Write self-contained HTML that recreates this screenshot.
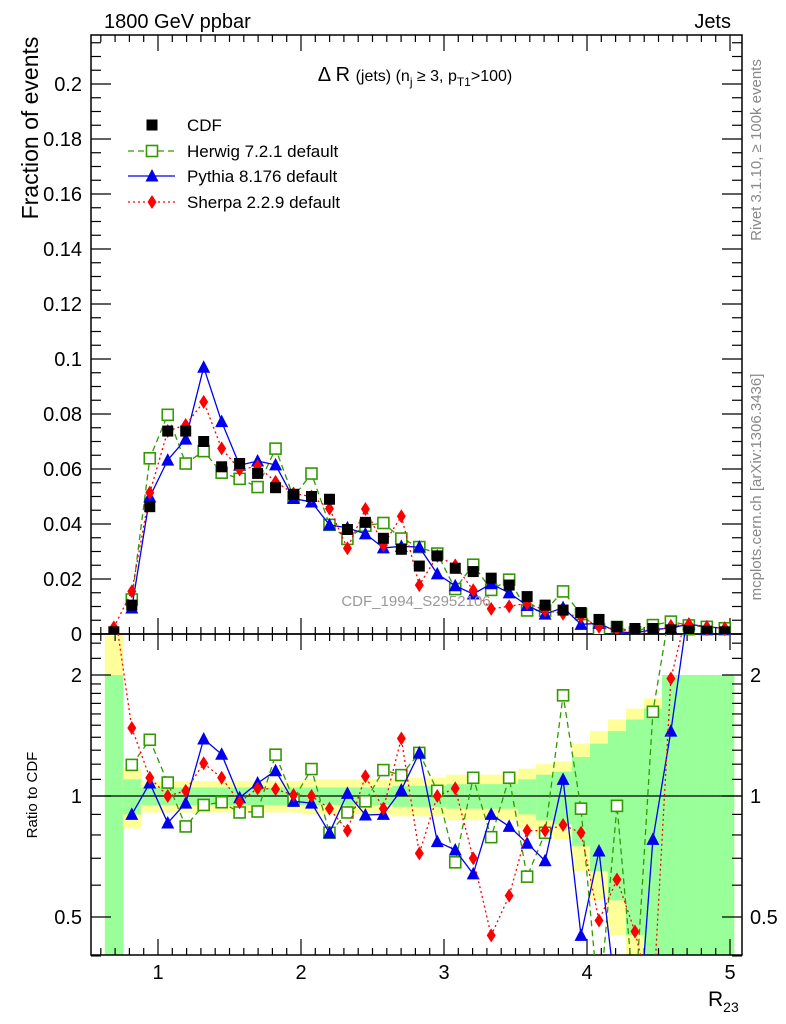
<!DOCTYPE html>
<html><head><meta charset="utf-8"><style>
html,body{margin:0;padding:0;background:#fff;overflow:hidden;width:786px;height:1024px;}
svg{display:block;font-family:"Liberation Sans",sans-serif;}
</style></head><body>
<svg id="chart" width="786" height="1024" viewBox="0 0 786 1024" xmlns="http://www.w3.org/2000/svg">
<defs>
<clipPath id="clipMain"><rect x="91" y="35" width="651" height="599"/></clipPath>
<clipPath id="clipRatio"><rect x="91" y="634" width="651" height="321"/></clipPath>
</defs>
<g id="bands" clip-path="url(#clipRatio)"></g>
<g id="axes"></g>
<g id="series"></g>
<text x="104" y="28" font-size="20">1800 GeV ppbar</text>
<text x="731" y="28" font-size="20" text-anchor="end">Jets</text>
<text x="415" y="81" font-size="20" text-anchor="middle">Δ R <tspan font-size="16">(jets) (n</tspan><tspan font-size="12" dy="5">j</tspan><tspan font-size="16" dy="-5"> ≥ 3, p</tspan><tspan font-size="12" dy="5">T1</tspan><tspan font-size="16" dy="-5">&gt;100)</tspan></text>
<text transform="translate(38,128) rotate(-90)" font-size="23" text-anchor="middle">Fraction of events</text>
<text transform="translate(37,795) rotate(-90)" font-size="15" text-anchor="middle">Ratio to CDF</text>
<text x="708" y="1006" font-size="21">R<tspan font-size="14" dy="6">23</tspan></text>
<text transform="translate(761,150) rotate(-90)" font-size="15" fill="#888" text-anchor="middle">Rivet 3.1.10, ≥ 100k events</text>
<text transform="translate(761,487) rotate(-90)" font-size="15" fill="#888" text-anchor="middle">mcplots.cern.ch [arXiv:1306.3436]</text>
<text x="416" y="606" font-size="15" fill="#999" text-anchor="middle">CDF_1994_S2952106</text>
<g id="legend"></g>
</svg>
<script>
const binStart = 0.6283;
const binWidth = 0.12566;
const cdfValues = [0.0008,0.0105,0.0463,0.0738,0.0738,0.070,0.0608,0.0620,0.0584,0.0532,0.0508,0.0500,0.0490,0.0380,0.0406,0.0348,0.0308,0.0247,0.0284,0.0239,0.0227,0.0203,0.0178,0.0136,0.0105,0.0087,0.0078,0.0053,0.0027,0.0020,0.0020,0.0015,0.0012,0.0010,0.0008];
const herwigRatio = [null,1.195,1.38,1.08,0.84,0.95,0.965,0.91,0.915,1.267,0.98,1.167,0.81,0.91,0.97,1.16,1.127,1.28,1.03,0.684,1.11,0.79,1.11,0.63,0.81,1.78,0.93,0.3,0.945,0.3,1.62,3,2.6,2.6,2.6];
const pythiaRatio = [null,0.90,1.077,0.857,0.96,1.386,1.27,0.99,1.077,1.156,0.97,0.96,0.81,1.015,0.897,0.90,1.035,1.28,0.77,0.734,0.64,0.90,0.84,0.763,0.69,1.1,0.45,0.73,0.3,0.2,0.78,1.45,3,2.6,2.6];
const sherpaRatio = [3,1.476,1.11,1.0,1.03,1.206,1.11,0.965,1.045,1.04,1.006,1.0,0.93,0.82,1.12,0.93,1.39,0.72,1.0,1.045,0.70,0.45,0.565,0.82,0.82,0.847,0.81,0.49,0.62,0.46,0.3,1.96,3,2.6,2.6];
const statErr = [1.0,0.1,0.05,0.05,0.05,0.05,0.05,0.05,0.05,0.05,0.05,0.05,0.05,0.05,0.05,0.05,0.06,0.06,0.06,0.07,0.07,0.07,0.07,0.1,0.13,0.15,0.25,0.35,0.45,0.55,0.65,1.0,1.0,1.0,1.0];
const totalErr = [1.5,0.17,0.09,0.09,0.09,0.09,0.09,0.09,0.09,0.09,0.09,0.1,0.1,0.1,0.1,0.1,0.11,0.11,0.11,0.13,0.13,0.13,0.13,0.17,0.2,0.22,0.35,0.45,0.55,0.65,0.75,0.9,1.0,1.0,1.0];
const yTicks = [0,0.02,0.04,0.06,0.08,0.1,0.12,0.14,0.16,0.18,0.2];
const yTickLabels = ["0","0.02","0.04","0.06","0.08","0.1","0.12","0.14","0.16","0.18","0.2"];
const xTicks = [1,2,3,4,5];
const ratioTicks = [0.5,1,2];

const NS="http://www.w3.org/2000/svg";
const L=91,R=742,T=35,MB=634,RB=955;
const sx=v=>158+(v-1)*143;
const sy=v=>634-v*2750;
const sr=r=>796-Math.log2(r)*121;
function mk(tag,attrs,parent){const e=document.createElementNS(NS,tag);for(const k in attrs)e.setAttribute(k,attrs[k]);parent.appendChild(e);return e;}
const axes=document.getElementById('axes'),series=document.getElementById('series'),bands=document.getElementById('bands'),legend=document.getElementById('legend');
const center=i=>binStart+binWidth*(i+0.5);

cdfValues.forEach((c,i)=>{
  const x0=sx(binStart+binWidth*i),x1=sx(binStart+binWidth*(i+1));
  [[totalErr[i],'#ffff99','band-total'],[statErr[i],'#99ff99','band-stat']].forEach(([e,col,nm])=>{
    const hi=sr(1+e),lo=sr(Math.max(1-e,0.05));
    const r=mk('rect',{x:x0,y:hi,width:x1-x0+0.5,height:lo-hi,fill:col},bands);
    
    
  });
});
let f=mk('rect',{x:L,y:T,width:R-L,height:MB-T,fill:'none',stroke:'#000','stroke-width':1.5},axes);

f=mk('rect',{x:L,y:MB,width:R-L,height:RB-MB,fill:'none',stroke:'#000','stroke-width':1.5},axes);

let u=mk('line',{x1:L,x2:R,y1:sr(1),y2:sr(1),stroke:'#000','stroke-width':1.2},axes);

for(let v=0.6;v<=5.05;v+=0.1){
  const vv=Math.round(v*10)/10,x=sx(vv);if(x<L||x>R)continue;
  const major=Math.abs(vv-Math.round(vv))<1e-6,len=major?16:7;
  [[T,1],[MB,-1],[MB,1],[RB,-1]].forEach(([y,d])=>mk('line',{x1:x,x2:x,y1:y,y2:y+d*len,stroke:'#000','stroke-width':1.2},axes));
}
xTicks.forEach(v=>{const t=mk('text',{x:sx(v),y:979,'font-size':20,'text-anchor':'middle'},axes);t.textContent=v;
});
for(let v=0;v<=0.2175;v+=0.005){const y=sy(v),maj=Math.abs(v/0.02-Math.round(v/0.02))<1e-6,len=maj?20:10;
 mk('line',{x1:L,x2:L+len,y1:y,y2:y,stroke:'#000','stroke-width':1.2},axes);
 mk('line',{x1:R,x2:R-len,y1:y,y2:y,stroke:'#000','stroke-width':1.2},axes);}
yTicks.forEach((v,i)=>{const t=mk('text',{x:82,y:sy(v)+7,'font-size':20,'text-anchor':'end'},axes);t.textContent=yTickLabels[i];
});
[0.4,0.5,0.6,0.7,0.8,0.9,1,1.1,1.2,1.3,1.4,1.5,1.6,1.7,1.8,1.9,2,2.2,2.4].forEach(v=>{
 const y=sr(v),maj=ratioTicks.includes(v),len=maj?20:10;
 mk('line',{x1:L,x2:L+len,y1:y,y2:y,stroke:'#000','stroke-width':1.2},axes);
 mk('line',{x1:R,x2:R-len,y1:y,y2:y,stroke:'#000','stroke-width':1.2},axes);});
ratioTicks.forEach(v=>{[[82,'end'],[750,'start']].forEach(([x,a])=>{const t=mk('text',{x:x,y:sr(v)+7,'font-size':20,'text-anchor':a},axes);t.textContent=v;
});});

function marker(kind,x,y,col,g){
  let e;
  if(kind==='sq')e=mk('rect',{x:x-5.5,y:y-5.5,width:11,height:11,fill:col},g);
  else if(kind==='osq')e=mk('rect',{x:x-5.5,y:y-5.5,width:11,height:11,fill:'#fff',stroke:col,'stroke-width':1.6},g);
  else if(kind==='tri')e=mk('polygon',{points:`${x},${y-7} ${x-6.5},${y+5.5} ${x+6.5},${y+5.5}`,fill:col},g);
  else e=mk('polygon',{points:`${x},${y-7} ${x-4.5},${y} ${x},${y+7} ${x+4.5},${y}`,fill:col},g);
  return e;
}
const mcs=[
 ['herwig',herwigRatio,'#339900','osq','6,4'],
 ['pythia',pythiaRatio,'#0000ee','tri',''],
 ['sherpa',sherpaRatio,'#ff0000','dia','2,3']];
mcs.forEach(([nm,ratio,col,mkind,dash])=>{
  [['main',i=>sy(cdfValues[i]*ratio[i]),'clipMain'],['ratio',i=>sr(ratio[i]),'clipRatio']].forEach(([pan,fy,clip])=>{
    const g=mk('g',{'clip-path':`url(#${clip})`},series);
    
    
    const idx=cdfValues.map((c,i)=>i).filter(i=>ratio[i]!=null);
    const pts=idx.map(i=>sx(center(i)).toFixed(1)+','+fy(i).toFixed(1)).join(' ');
    const pl=mk('polyline',{points:pts,fill:'none',stroke:col,'stroke-width':1.3,'stroke-dasharray':dash},g);
    
    
    idx.forEach(i=>{const m=marker(mkind,sx(center(i)),fy(i),col,g);
      
      });
  });
});
const cg=mk('g',{'clip-path':'url(#clipMain)'},series);


cdfValues.forEach((c,i)=>{const m=marker('sq',sx(center(i)),sy(c),'#000',cg);
  
  });
const leg=[['CDF','#000','sq',null,null],['Herwig 7.2.1 default','#339900','osq','6,4',1],['Pythia 8.176 default','#0000ee','tri','',1],['Sherpa 2.2.9 default','#ff0000','dia','2,3',1]];
leg.forEach(([lab,col,k,dash,line],i)=>{
  const y=[125,151,176,202][i];
  const g=mk('g',{},legend);
  
  
  if(line)mk('line',{x1:128,x2:175,y1:y,y2:y,stroke:col,'stroke-width':1.3,'stroke-dasharray':dash},g);
  marker(k,152,y,col,g);
  const t=mk('text',{x:187,y:y+6,'font-size':17},g);t.textContent=lab;
});
</script>
</body></html>
